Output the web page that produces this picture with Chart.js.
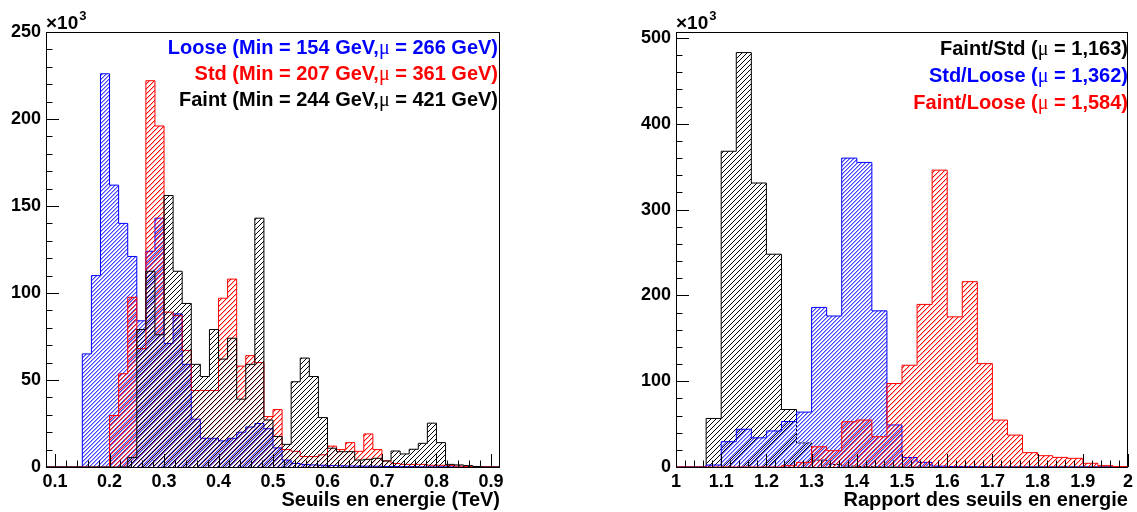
<!DOCTYPE html>
<html>
<head>
<meta charset="utf-8">
<script src="https://cdn.jsdelivr.net/npm/chart.js@4.4.0/dist/chart.umd.min.js"></script>
<style>
  body { margin: 0; background: #fff; }
  canvas { position: absolute; left: 0; top: 0; }
</style>
</head>
<body>
<canvas id="energyChart" width="1137" height="512"></canvas>
<canvas id="ratioChart" width="1137" height="512"></canvas>
<script>
// Left panel: energy thresholds, 50 bins of 1/60 TeV starting at 1/12 TeV (entries x10^3)
const energyMin = 1 / 12;
const energyBin = 1 / 60;
const energyLoose = [0, 0, 0, 0, 65, 110, 226, 162, 140, 121,
    84, 124, 143, 71, 88, 59, 27.5, 16.5, 16.5, 15,
    16.5, 20, 23, 25, 22, 11, 4, 2, 1.5, 1.2,
    1, 0.8, 0.7, 0.6, 0.5, 0.5, 0.4, 0.3, 0.3, 0.2,
    0.2, 0.1, 0.1, 0.1, 0.1, 0, 0, 0, 0, 0];
const energyStd = [0, 0, 0, 0, 0, 0, 0, 29.6, 53.6, 97.5,
    68, 222, 196, 89, 87, 67, 44, 44, 44, 97,
    108, 58, 64, 60, 29, 33, 10, 9, 6, 6,
    7, 12, 10, 14, 9, 19, 10, 3.5, 2, 1.5,
    1.5, 1.5, 1, 1, 0.8, 0.5, 0.3, 0.2, 0.1, 0];
const energyFaint = [0, 0, 0, 0, 0, 0, 0, 0, 0, 5.4,
    79, 112.5, 76, 156, 112.5, 94, 59, 52, 79, 62,
    74, 39, 59, 143, 27, 17.5, 13, 49, 62.6, 52,
    28.4, 10.8, 8.8, 8.8, 4, 4.4, 5, 3.5, 9.2, 7.5,
    10.2, 13.6, 25.2, 14, 1.5, 1.2, 0.8, 0.3, 0, 0];
const energyXTicks = [0.1, 0.2, 0.3, 0.4, 0.5, 0.6, 0.7, 0.8, 0.9];
const energyYTicks = [0, 50, 100, 150, 200, 250];

// Right panel: threshold ratios, 30 bins of 1/30 from 1 to 2 (entries x10^3)
const ratioMin = 1;
const ratioBin = 1 / 30;
const ratioFaintStd = [0, 0, 56.6, 368, 483, 331, 248, 67, 28, 8,
    3, 1, 0.5, 0.2, 0, 0, 0, 0, 0, 0,
    0, 0, 0, 0, 0, 0, 0, 0, 0, 0];
const ratioStdLoose = [0, 0, 2.3, 29.5, 44, 34, 42, 53, 64, 186,
    176, 360, 355, 182, 49, 11, 5.4, 1, 0.5, 0.3,
    0.2, 0, 0, 0, 0, 0, 0, 0, 0, 0];
const ratioFaintLoose = [0, 0, 0, 0, 0, 0, 0, 1.5, 5.4, 23.6,
    19, 52.7, 54.7, 35.3, 97.3, 118.6, 189.5, 346, 175, 216,
    120.5, 54.7, 37.2, 16.7, 13.2, 11.2, 10.1, 4.3, 1.6, 0.5];
const ratioXTicks = [1, 1.1, 1.2, 1.3, 1.4, 1.5, 1.6, 1.7, 1.8, 1.9, 2];
const ratioYTicks = [0, 100, 200, 300, 400, 500];

const FONT = '"Liberation Sans", Arial, sans-serif';

// turn bin contents into the points of a ROOT-like step outline
function histPoints(values, xmin, width) {
    const pts = [{ x: xmin, y: 0 }];
    values.forEach((v, i) => pts.push({ x: xmin + i * width, y: v }));
    pts.push({ x: xmin + values.length * width, y: 0 });
    return pts;
}

// "////" hatch like ROOT fill style 3004; soft = half-tone neighbour pixel
function hatch(color, step, soft) {
    const c = document.createElement('canvas');
    c.width = step;
    c.height = step;
    const g = c.getContext('2d');
    for (let i = 0; i < step; i++) {
        g.fillStyle = color;
        g.fillRect(i, step - 1 - i, 1, 1);
        if (soft) {
            g.fillStyle = soft;
            g.fillRect((i + 1) % step, step - 1 - i, 1, 1);
        }
    }
    return g.createPattern(c, 'repeat');
}

function histDataset(values, xmin, width, color, fillPattern, order) {
    return {
        data: histPoints(values, xmin, width),
        stepped: true,
        borderColor: color,
        borderWidth: 1,
        backgroundColor: fillPattern,
        fill: 'origin',
        pointRadius: 0,
        order: order
    };
}

// frame, inner tick marks, x10^3 label and the text block
const rootFrame = {
    id: 'rootFrame',
    afterDatasetsDraw(chart, args, opts) {
        const { ctx, chartArea: a, scales: { x, y } } = chart;
        ctx.save();
        ctx.strokeStyle = '#000';
        ctx.lineWidth = 1;
        ctx.beginPath();
        for (let i = Math.ceil(x.min / opts.xMinor - 1e-6); i * opts.xMinor <= x.max + 1e-9; i++) {
            const v = i * opts.xMinor;
            const isMajor = Math.abs(v / opts.xMajor - Math.round(v / opts.xMajor)) < 1e-6;
            const px = Math.round(x.getPixelForValue(v)) + 0.5;
            ctx.moveTo(px, a.bottom);
            ctx.lineTo(px, a.bottom - (isMajor ? 13 : 6.5));
        }
        for (let v = 0; v <= y.max + 1e-9; v += opts.yMinor) {
            const isMajor = v % opts.yMajor === 0;
            const py = Math.round(y.getPixelForValue(v)) + 0.5;
            ctx.moveTo(a.left, py);
            ctx.lineTo(a.left + (isMajor ? 13 : 6.5), py);
        }
        ctx.stroke();
        ctx.strokeRect(Math.round(a.left) + 0.5, Math.round(a.top) + 0.5,
            Math.round(a.right - a.left) - 1, Math.round(a.bottom - a.top));

        // x10^3 multiplier
        ctx.fillStyle = '#000';
        ctx.textBaseline = 'alphabetic';
        ctx.textAlign = 'left';
        ctx.font = 'bold 19px ' + FONT;
        ctx.fillText('\u00d710', a.left, 29);
        const w10 = ctx.measureText('\u00d710').width;
        ctx.font = 'bold 13px ' + FONT;
        ctx.fillText('3', a.left + w10 + 1, 20);

        // right-aligned text lines, the mu drawn in a serif face
        opts.lines.forEach(line => {
            const parts = line.parts.map(p => ({
                t: p,
                font: p === '\u03bc' ? '20px "Liberation Serif", serif' : 'bold 20px ' + FONT
            }));
            let total = 0;
            parts.forEach(p => { ctx.font = p.font; p.w = ctx.measureText(p.t).width; total += p.w; });
            let px = opts.textRight - total;
            ctx.fillStyle = line.color;
            parts.forEach(p => { ctx.font = p.font; ctx.fillText(p.t, px, line.y); px += p.w; });
        });
        ctx.restore();
    }
};

function makeChart(id, cfg) {
    const canvas = document.getElementById(id);
    return new Chart(canvas.getContext('2d'), {
        type: 'line',
        data: { datasets: cfg.datasets },
        options: {
            responsive: false,
            animation: false,
            events: [],
            layout: { padding: cfg.padding },
            scales: {
                x: {
                    type: 'linear',
                    min: cfg.xMin,
                    max: cfg.xMax,
                    grid: { display: false, drawTicks: false },
                    border: { display: false },
                    afterFit: s => { s.height = 45; },
                    afterBuildTicks: s => { s.ticks = cfg.xTicks.map(v => ({ value: v })); },
                    ticks: {
                        autoSkip: false,
                        maxRotation: 0,
                        padding: 4,
                        color: '#000',
                        font: { family: FONT, size: 18, weight: 'bold' },
                        callback: v => String(Math.round(v * 10) / 10)
                    },
                    title: {
                        display: true,
                        text: cfg.xTitle,
                        align: 'end',
                        color: '#000',
                        padding: { top: 0, bottom: 0 },
                        font: { family: FONT, size: 20, weight: 'bold' }
                    }
                },
                y: {
                    min: 0,
                    max: cfg.yMax,
                    grid: { display: false, drawTicks: false },
                    border: { display: false },
                    afterFit: s => { s.width = 46; },
                    afterBuildTicks: s => { s.ticks = cfg.yTicks.map(v => ({ value: v })); },
                    ticks: {
                        padding: 5,
                        color: '#000',
                        font: { family: FONT, size: 18, weight: 'bold' }
                    }
                }
            },
            plugins: {
                legend: { display: false },
                tooltip: { enabled: false },
                rootFrame: cfg.frame
            }
        },
        plugins: [rootFrame]
    });
}

const blueHatch = () => hatch('rgb(70,70,255)', 4, 'rgb(160,160,255)');
const redHatch = () => hatch('#ff0000', 5, 'rgba(255,0,0,0.3)');
const blackHatch = () => hatch('#000000', 5);

const energyChart = makeChart('energyChart', {
    datasets: [
        histDataset(energyFaint, energyMin, energyBin, '#000000', blackHatch(), 0),
        histDataset(energyStd, energyMin, energyBin, '#ff0000', redHatch(), 1),
        histDataset(energyLoose, energyMin, energyBin, '#0000ff', blueHatch(), 2)
    ],
    padding: { left: 0, right: 1137 - 500, top: 32, bottom: 0 },
    xMin: energyMin,
    xMax: energyMin + energyLoose.length * energyBin,
    yMax: 250,
    xTicks: energyXTicks,
    yTicks: energyYTicks,
    xTitle: 'Seuils en energie (TeV)',
    frame: {
        xMajor: 0.1, xMinor: 0.02, yMajor: 50, yMinor: 10,
        textRight: 498,
        lines: [
            { parts: ['Loose (Min = 154 GeV,', '\u03bc', ' = 266 GeV)'], color: '#0000ff', y: 54 },
            { parts: ['Std (Min = 207 GeV,', '\u03bc', ' = 361 GeV)'], color: '#ff0000', y: 80 },
            { parts: ['Faint (Min = 244 GeV,', '\u03bc', ' = 421 GeV)'], color: '#000000', y: 106 }
        ]
    }
});

const ratioChart = makeChart('ratioChart', {
    datasets: [
        histDataset(ratioFaintLoose, ratioMin, ratioBin, '#ff0000', redHatch(), 0),
        histDataset(ratioStdLoose, ratioMin, ratioBin, '#0000ff', blueHatch(), 1),
        histDataset(ratioFaintStd, ratioMin, ratioBin, '#000000', blackHatch(), 2)
    ],
    padding: { left: 630, right: 1137 - 1130, top: 32, bottom: 0 },
    xMin: ratioMin,
    xMax: ratioMin + ratioFaintStd.length * ratioBin,
    yMax: 507,
    xTicks: ratioXTicks,
    yTicks: ratioYTicks,
    xTitle: 'Rapport des seuils en energie',
    frame: {
        xMajor: 0.1, xMinor: 0.02, yMajor: 100, yMinor: 20,
        textRight: 1128,
        lines: [
            { parts: ['Faint/Std (', '\u03bc', ' = 1,163)'], color: '#000000', y: 55 },
            { parts: ['Std/Loose (', '\u03bc', ' = 1,362)'], color: '#0000ff', y: 82 },
            { parts: ['Faint/Loose (', '\u03bc', ' = 1,584)'], color: '#ff0000', y: 109 }
        ]
    }
});
</script>
</body>
</html>
